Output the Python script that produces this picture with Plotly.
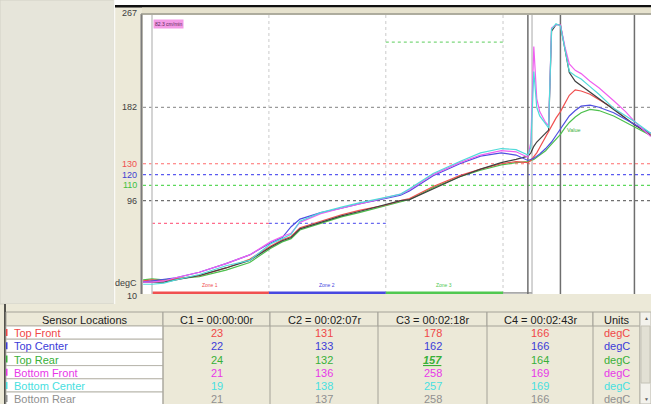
import plotly.graph_objects as go

W, H = 651, 404
FONT = "Liberation Sans, Arial, sans-serif"

# ---------------- data ----------------
SENSORS = ["Top Front", "Top Center", "Top Rear", "Bottom Front", "Bottom Center", "Bottom Rear"]
UNIT = "degC"

# sample times in seconds from cursor C1
TIME_S = [-3, 0, 4, 8, 16, 25, 33, 40, 44, 47, 50, 57, 64, 70, 79, 84, 87, 95, 104, 111,
          118, 123, 127, 128, 129, 130, 131, 133, 134, 135, 136.5, 138, 139.5, 141, 143,
          145, 148, 151, 156, 160, 163, 166.5, 168.5]

TOP_FRONT = [22, 23, 22, 24, 27, 34, 42, 54, 60, 63, 71, 77, 83, 87, 92, 96, 98, 109, 119, 125,
             130, 132, 131, 133, 136, 140, 145, 155, 160, 165, 172, 178, 186, 193, 198,
             197, 194, 189, 181, 172, 166, 161, 157]
TOP_CENTER = [21, 22, 23, 25, 30, 38, 46, 57, 62, 72, 79, 85, 89, 93, 98, 101, 105, 119, 130, 137,
              140, 138, 133, 134, 135, 137, 139, 144, 147, 150, 156, 162, 168, 174, 179,
              183, 184, 182, 177, 171, 166, 161, 158]
TOP_REAR = [23, 24, 23, 24, 26, 32, 39, 52, 58, 61, 69, 75, 81, 85, 91, 95, 97, 108, 118, 124,
            129, 131, 132, 133, 134, 136, 138, 142, 145, 148, 152, 157, 163, 168, 173,
            177, 180, 179, 174, 168, 164, 159, 156]
BOTTOM_FRONT = [21, 21, 22, 25, 30, 38, 46, 58, 63, 66, 76, 84, 89, 93, 99, 102, 106, 120, 131, 138,
                142, 141, 136, 150, 238, 190, 178, 168, 165, 255, 258, 258, 238, 222, 216,
                213, 206, 200, 188, 178, 169, 160, 155]
BOTTOM_CENTER = [19, 19, 20, 23, 28, 36, 41, 56, 61, 65, 77, 85, 90, 94, 99, 102, 107, 121, 132, 140,
                 144, 143, 138, 145, 215, 182, 174, 166, 163, 254, 259, 257, 236, 215, 211,
                 208, 201, 194, 181, 174, 169, 162, 158]
BOTTOM_REAR = [21, 21, 21, 23, 27, 34, 41, 53, 59, 62, 70, 76, 82, 86, 92, 96, 97, 107, 118, 125,
               131, 134, 137, 140, 146, 150, 153, 158, 161, 252, 258, 258, 236, 214, 206,
               202, 196, 190, 180, 172, 166, 160, 156]
SERIES = [TOP_FRONT, TOP_CENTER, TOP_REAR, BOTTOM_FRONT, BOTTOM_CENTER, BOTTOM_REAR]

CURSOR_NAMES = ["C1", "C2", "C3", "C4"]
CURSOR_TIMES = [0, 127, 138, 163]
CURSOR_LABELS = ["00:00:00r", "00:02:07r", "00:02:18r", "00:02:43r"]
C1_VALUES = [23, 22, 24, 21, 19, 21]
C2_VALUES = [131, 133, 132, 136, 138, 137]
C3_VALUES = [178, 162, 157, 258, 257, 258]
C4_VALUES = [166, 166, 164, 169, 169, 166]
CURSOR_VALUES = [C1_VALUES, C2_VALUES, C3_VALUES, C4_VALUES]

ZONE_NAMES = ["Zone 1", "Zone 2", "Zone 3"]
ZONE_EDGES = [0, 39.5, 79, 118.6]
ZONE_LIMITS = [75, 75, 242]
PROCESS_END = 128.4

LIMIT_LEVELS = [130, 120, 110]
GRID_LEVELS = [182, 96]
Y_MIN, Y_MAX = 10, 267
X_MIN, X_MAX = -3.04, 168.6
SPEED_TAG = "82.3 cm/min"
MARKER_LABEL = "Value"
MARKER_POINT = (139.5, 161)

# ---------------- styles ----------------
LINE_COLORS = ["#F05050", "#5050E0", "#4CC04C", "#F060F0", "#50DADA", "#404040"]
TEXT_COLORS = ["#F04848", "#3C3CD8", "#38B038", "#E838E8", "#48E0E0", "#909090"]
LIMIT_COLORS = ["#FF6C6C", "#5A5AF0", "#5CD85C"]
ZONE_LIMIT_COLORS = ["#FF6C8C", "#6A6AF0", "#7CD87C"]
LIMIT_LABEL_COLORS = ["#F05050", "#4040D0", "#40C040"]
ZONE_COLORS = ["#F05050", "#4848E0", "#50C850"]
CURSOR_COLORS = ["#20C020", "#D02020", "#20C020", "#20C020"]
BEIGE = "#ECE9D8"

PLOT_L, PLOT_R, PLOT_T, PLOT_B = 143, 651, 15, 294
PX_PER_UNIT = (PLOT_B - PLOT_T) / (Y_MAX - Y_MIN)


def px(x):
    return x / W


def py(y):
    return 1 - y / H


fig = go.Figure()

# temperature curves
for i in [2, 0, 5, 1, 3, 4]:
    fig.add_trace(go.Scatter(
        x=TIME_S, y=SERIES[i], mode="lines", name=SENSORS[i],
        line=dict(color=LINE_COLORS[i], width=1.2), hoverinfo="skip"))

# cursor handles beneath the time axis
fig.add_trace(go.Scatter(
    x=CURSOR_TIMES, y=[Y_MIN - 7 / PX_PER_UNIT] * len(CURSOR_TIMES), mode="markers",
    marker=dict(symbol="triangle-up", size=9, color=CURSOR_COLORS, line=dict(width=0)),
    cliponaxis=False, hoverinfo="skip"))

shapes = []
ann = []


def rect(x0, y0, x1, y1, fill, line=None, lw=1):
    shapes.append(dict(type="rect", xref="paper", yref="paper",
                       x0=px(x0), x1=px(x1), y0=py(y1), y1=py(y0),
                       fillcolor=fill, line=dict(color=line or fill, width=lw if line else 0)))


def pline(x0, y0, x1, y1, color, lw=1, dash=None):
    shapes.append(dict(type="line", xref="paper", yref="paper",
                       x0=px(x0), x1=px(x1), y0=py(y0), y1=py(y1),
                       line=dict(color=color, width=lw, dash=dash)))


def text(x, y, s, size, color, anchor="center"):
    ann.append(dict(xref="paper", yref="paper", x=px(x), y=py(y), text=s,
                    xanchor=anchor, yanchor="middle", showarrow=False,
                    font=dict(family=FONT, size=size, color=color)))


# ---- window chrome ----
rect(0, 0, 114, 304, "#E6E5DA", "#D2D1C6", 1)
pline(114.5, 0, 114.5, 304, "#FAFAF6", 1.5)
rect(115, 0, 651, 5, "#FFFFFF")
rect(115, 5, 651, 7.5, "#111111")
rect(142, 7.5, 651, 14, "#E6E2CE")
pline(141.5, 14, 141.5, 294, "#7C7C7C", 2)
pline(141, 14, 651, 14, "#9A988C", 1.5)

# ---- reference lines in data coordinates ----
for lvl, col in zip(GRID_LEVELS, ["#9A9A9A", "#707070"]):
    shapes.append(dict(type="line", xref="x domain", yref="y", x0=0, x1=1, y0=lvl, y1=lvl,
                       layer="below", line=dict(color=col, width=1.2, dash="dot")))
for lvl, col in zip(LIMIT_LEVELS, LIMIT_COLORS):
    shapes.append(dict(type="line", xref="x domain", yref="y", x0=0, x1=1, y0=lvl, y1=lvl,
                       layer="below", line=dict(color=col, width=1.2, dash="dot")))

# zone boundaries, zone limits, zone bars
for e in ZONE_EDGES[1:]:
    shapes.append(dict(type="line", xref="x", yref="y", x0=e, x1=e, y0=Y_MIN, y1=Y_MAX,
                       layer="below", line=dict(color="#CACACA", width=1, dash="dot")))
for k in range(len(ZONE_NAMES)):
    a, b = ZONE_EDGES[k], ZONE_EDGES[k + 1]
    shapes.append(dict(type="line", xref="x", yref="y", x0=a, x1=b,
                       y0=ZONE_LIMITS[k], y1=ZONE_LIMITS[k], layer="below",
                       line=dict(color=ZONE_LIMIT_COLORS[k], width=1.2, dash="dot")))
    shapes.append(dict(type="line", xref="x", yref="y", x0=a, x1=b, y0=Y_MIN + 1, y1=Y_MIN + 1,
                       layer="below", line=dict(color=ZONE_COLORS[k], width=3)))
    ann.append(dict(xref="x", yref="y", x=(a + b) / 2, y=Y_MIN + 8.3, text=ZONE_NAMES[k],
                    xanchor="center", yanchor="middle", showarrow=False,
                    font=dict(family=FONT, size=5, color=ZONE_COLORS[k])))

shapes.append(dict(type="line", xref="x", yref="y", x0=ZONE_EDGES[-1], x1=PROCESS_END,
                   y0=Y_MIN + 1, y1=Y_MIN + 1, layer="below",
                   line=dict(color="#9A9A9A", width=1.5)))
shapes.append(dict(type="line", xref="x", yref="y", x0=PROCESS_END, x1=PROCESS_END,
                   y0=Y_MIN, y1=Y_MAX, layer="below", line=dict(color="#A8A8A8", width=1)))

# cursor lines
for k, t in enumerate(CURSOR_TIMES):
    shapes.append(dict(type="line", xref="x", yref="y", x0=t, x1=t, y0=Y_MIN, y1=Y_MAX,
                       layer="below",
                       line=dict(color="#C6C6C6" if k == 0 else "#6E6E6E", width=1.5)))

# ---- y labels ----
Y_LABELS = [Y_MAX, GRID_LEVELS[0]] + LIMIT_LEVELS + [GRID_LEVELS[1], Y_MIN]
Y_LABEL_COLORS = ["#404040", "#404040"] + LIMIT_LABEL_COLORS + ["#404040", "#404040"]
for v, c in zip(Y_LABELS, Y_LABEL_COLORS):
    shift = 2 if v == Y_MAX else (-2 if v == Y_MIN else 0)
    ann.append(dict(xref="paper", yref="y", x=px(139), y=v, yshift=shift, text=str(v),
                    xanchor="right", yanchor="middle", showarrow=False,
                    font=dict(family=FONT, size=9, color=c)))
ann.append(dict(xref="paper", yref="y", x=px(139), y=Y_MIN + 10.5, text=UNIT,
                xanchor="right", yanchor="middle", showarrow=False,
                font=dict(family=FONT, size=9, color="#404040")))

# speed tag and marker label
ann.append(dict(xref="paper", yref="paper", x=px(153), y=py(24), text=SPEED_TAG,
                xanchor="left", yanchor="middle", showarrow=False, bgcolor="#F49AE6", borderpad=1,
                font=dict(family=FONT, size=5, color="#5A2A5A")))
ann.append(dict(xref="x", yref="y", x=MARKER_POINT[0], y=MARKER_POINT[1], text=MARKER_LABEL,
                xanchor="left", yanchor="middle", showarrow=False,
                font=dict(family=FONT, size=5.5, color="#40B040")))

# ---- cursor table ----
COL_EDGES = [6, 163, 270, 378, 487, 593, 640]
HEAD_T, HEAD_B, ROW_H = 312, 326, 13.2

rect(5, 304, 651, 404, BEIGE)
pline(5, 304, 5, 404, "#202020", 1.5)
headers = ["Sensor Locations"] + [f"{n} = {l}" for n, l in zip(CURSOR_NAMES, CURSOR_LABELS)] + ["Units"]
for j, htxt in enumerate(headers):
    a, b = COL_EDGES[j], COL_EDGES[j + 1]
    rect(a, HEAD_T, b, HEAD_B, BEIGE, "#A4A298", 1)
    text((a + b) / 2, (HEAD_T + HEAD_B) / 2 + 0.5, htxt, 11, "#202020")

for i, name in enumerate(SENSORS):
    top = HEAD_B + i * ROW_H
    mid = top + ROW_H / 2
    rect(COL_EDGES[0], top, COL_EDGES[1], top + ROW_H, "#FFFFFF", "#B8B6AC", 1)
    rect(6, mid - 3.5, 7.5, mid + 3.5, TEXT_COLORS[i])
    text(12, mid + 0.5, name, 11, TEXT_COLORS[i], anchor="left")
    for k, vals in enumerate(CURSOR_VALUES):
        a, b = COL_EDGES[k + 1], COL_EDGES[k + 2]
        txt = str(vals[i])
        if k == 2 and i == 2:
            txt = f"<b><i><u>{txt}</u></i></b>"
        text((a + b) / 2, mid + 0.5, txt, 11, TEXT_COLORS[i])
    a, b = COL_EDGES[5], COL_EDGES[6]
    text((a + b) / 2, mid + 0.5, UNIT, 11, TEXT_COLORS[i])

for e in COL_EDGES[1:]:
    pline(e, HEAD_B, e, 404, "#A4A298", 1)

# scrollbar
rect(640, HEAD_T, 651, 404, "#F3F2EC", "#B8B6AC", 1)
rect(641, 326, 650, 383, "#E2E0D4", "#C4C2B6", 1)
text(646, 318, "▲", 5, "#606060")
text(646, 399, "▼", 5, "#606060")

fig.update_layout(
    width=W, height=H, autosize=False,
    margin=dict(l=0, r=0, t=0, b=0, pad=0),
    paper_bgcolor=BEIGE, plot_bgcolor="#FFFFFF", showlegend=False,
    xaxis=dict(domain=[px(PLOT_L), px(PLOT_R)], range=[X_MIN, X_MAX], visible=False, fixedrange=True),
    yaxis=dict(domain=[py(PLOT_B), py(PLOT_T)], range=[Y_MIN, Y_MAX], visible=False, fixedrange=True),
    shapes=shapes, annotations=ann,
)

fig.write_html("out.html", config={"displayModeBar": False})
